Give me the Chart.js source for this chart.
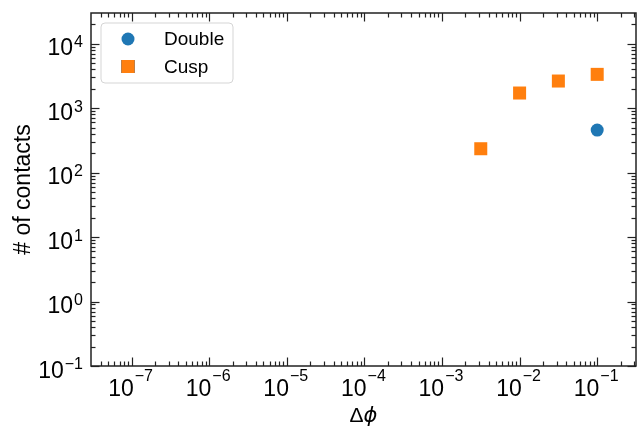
<!DOCTYPE html>
<html>
<head>
<meta charset="utf-8">
<script src="https://cdn.jsdelivr.net/npm/chart.js@4/dist/chart.umd.min.js"></script>
<style>
  html, body { margin: 0; padding: 0; background: #fff; }
  #wrap { width: 641px; height: 433px; }
</style>
</head>
<body>
<div id="wrap"><canvas id="chart" width="641" height="433"></canvas></div>
<script>
// data
const doubleX = [0.1];
const doubleY = [457];
const cuspX = [0.00316, 0.01, 0.0316, 0.1];
const cuspY = [235, 1720, 2640, 3350];

// axis limits and major tick exponents
const xMin = Math.pow(10, -7.5);
const xMax = Math.pow(10, -0.5);
const yMin = 0.1;
const yMax = 30000;
const xTickExps = [-7, -6, -5, -4, -3, -2, -1];
const yTickExps = [-1, 0, 1, 2, 3, 4];

const FONT = '"Liberation Sans", Arial, sans-serif';

function toPoints(xs, ys) {
    return xs.map((x, i) => ({ x: x, y: ys[i] }));
}

function minorValues(lo, hi) {
    const out = [];
    for (let k = Math.floor(Math.log10(lo)); k <= Math.ceil(Math.log10(hi)); k++) {
        for (let m = 2; m <= 9; m++) {
            const v = m * Math.pow(10, k);
            if (v > lo && v < hi) out.push(v);
        }
    }
    return out;
}

// "10" with a raised exponent; y0 = baseline of the digits, y1 = baseline of the exponent
function drawPower(ctx, exp, x, y0, y1, align) {
    const base = '10';
    const sup = String(exp).replace('-', '\u2212');
    ctx.font = '23px ' + FONT;
    const wb = ctx.measureText(base).width;
    ctx.font = '16px ' + FONT;
    const ws = ctx.measureText(sup).width;
    const total = wb + ws + 1;
    let left = x;
    if (align === 'center') left = x - total / 2;
    if (align === 'right') left = x - total;
    ctx.textBaseline = 'alphabetic';
    ctx.textAlign = 'left';
    ctx.fillStyle = '#000';
    ctx.font = '23px ' + FONT;
    ctx.fillText(base, left, y0);
    ctx.font = '16px ' + FONT;
    ctx.fillText(sup, left + wb + 1, y1);
}

const axesPlugin = {
    id: 'axesPlugin',
    afterDraw(chart) {
        const ctx = chart.ctx;
        const a = chart.chartArea;
        const xs = chart.scales.x;
        const ys = chart.scales.y;
        ctx.save();

        // inward ticks on all four sides
        ctx.strokeStyle = '#222';
        ctx.lineWidth = 1.2;
        const tick = (x1, y1, x2, y2) => {
            ctx.beginPath();
            ctx.moveTo(x1, y1);
            ctx.lineTo(x2, y2);
            ctx.stroke();
        };
        minorValues(xMin, xMax).forEach(v => {
            const px = Math.round(xs.getPixelForValue(v)) + 0.5;
            tick(px, a.bottom, px, a.bottom - 4.5);
            tick(px, a.top, px, a.top + 4.5);
        });
        xTickExps.forEach(e => {
            const px = Math.round(xs.getPixelForValue(Math.pow(10, e))) + 0.5;
            tick(px, a.bottom, px, a.bottom - 8.5);
            tick(px, a.top, px, a.top + 8.5);
        });
        minorValues(yMin, yMax).forEach(v => {
            const py = Math.round(ys.getPixelForValue(v)) + 0.5;
            tick(a.left, py, a.left + 4.5, py);
            tick(a.right, py, a.right - 4.5, py);
        });
        yTickExps.forEach(e => {
            const py = Math.round(ys.getPixelForValue(Math.pow(10, e))) + 0.5;
            tick(a.left, py, a.left + 8.5, py);
            tick(a.right, py, a.right - 8.5, py);
        });

        // frame
        ctx.lineWidth = 1.5;
        ctx.strokeStyle = '#222';
        ctx.strokeRect(a.left, a.top, a.right - a.left, a.bottom - a.top);

        // tick labels
        xTickExps.forEach(e => {
            const px = xs.getPixelForValue(Math.pow(10, e));
            drawPower(ctx, e, px - 1, a.bottom + 30, a.bottom + 15, 'center');
        });
        yTickExps.forEach(e => {
            const py = ys.getPixelForValue(Math.pow(10, e));
            drawPower(ctx, e, a.left - 8, py + 11.7, py + 3.4, 'right');
        });

        // axis titles
        ctx.fillStyle = '#000';
        ctx.textAlign = 'center';
        ctx.textBaseline = 'alphabetic';
        ctx.font = '23px ' + FONT;
        ctx.save();
        ctx.translate(30, (a.top + a.bottom) / 2);
        ctx.rotate(-Math.PI / 2);
        ctx.fillText('# of contacts', 0, 0);
        ctx.restore();

        const cx = (a.left + a.right) / 2;
        ctx.textAlign = 'left';
        ctx.font = '21px ' + FONT;
        const wD = ctx.measureText('\u0394').width;
        ctx.font = 'italic 21px "DejaVu Sans", sans-serif';
        const wP = ctx.measureText('\u03d5').width;
        const start = cx - (wD + wP) / 2;
        ctx.font = '21px ' + FONT;
        ctx.fillText('\u0394', start, 422);
        ctx.font = 'italic 21px "DejaVu Sans", sans-serif';
        ctx.fillText('\u03d5', start + wD, 422);

        // legend
        const lx = 101, ly = 23, lw = 132, lh = 60;
        ctx.beginPath();
        ctx.roundRect(lx, ly, lw, lh, 4);
        ctx.fillStyle = 'rgba(255,255,255,0.8)';
        ctx.fill();
        ctx.lineWidth = 1;
        ctx.strokeStyle = '#d5d5d5';
        ctx.stroke();
        chart.data.datasets.forEach((ds, i) => {
            const my = ly + 16 + i * 27.5;
            const mx = lx + 27;
            Chart.helpers.drawPoint(ctx, {
                pointStyle: ds.pointStyle,
                radius: ds.pointRadius,
                borderWidth: 0
            }, mx, my);
            ctx.fillStyle = ds.backgroundColor;
            ctx.fill();
            ctx.fillStyle = '#000';
            ctx.font = '19px ' + FONT;
            ctx.textAlign = 'left';
            ctx.textBaseline = 'middle';
            ctx.fillText(ds.label, lx + 63, my + 1);
        });

        ctx.restore();
    }
};

new Chart(document.getElementById('chart'), {
    type: 'scatter',
    data: {
        datasets: [
            {
                label: 'Double',
                data: toPoints(doubleX, doubleY),
                pointStyle: 'circle',
                pointRadius: 6.5,
                backgroundColor: '#1f77b4',
                borderColor: '#1f77b4',
                borderWidth: 0
            },
            {
                label: 'Cusp',
                data: toPoints(cuspX, cuspY),
                pointStyle: 'rect',
                pointRadius: 9.2,
                backgroundColor: '#ff7f0e',
                borderColor: '#ff7f0e',
                borderWidth: 0
            }
        ]
    },
    options: {
        responsive: false,
        animation: false,
        layout: { autoPadding: false, padding: { left: 91, top: 13, right: 5, bottom: 67 } },
        scales: {
            x: { type: 'logarithmic', min: xMin, max: xMax, display: false },
            y: { type: 'logarithmic', min: yMin, max: yMax, display: false }
        },
        plugins: {
            legend: { display: false },
            tooltip: { enabled: false }
        }
    },
    plugins: [axesPlugin]
});
</script>
</body>
</html>
